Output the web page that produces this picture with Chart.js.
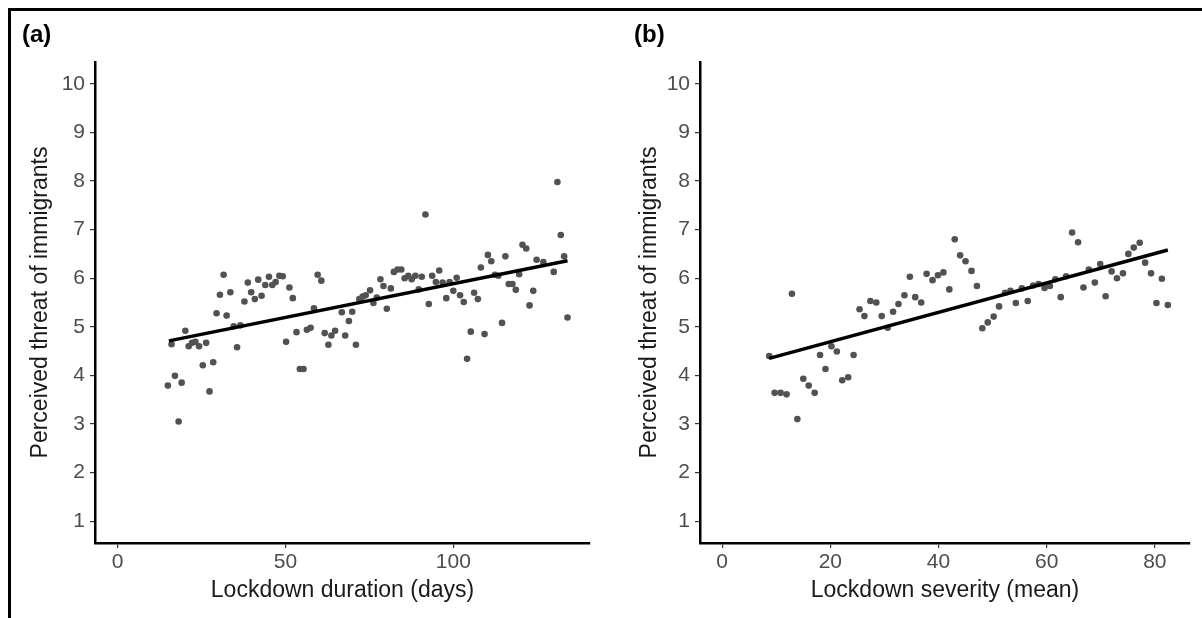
<!DOCTYPE html>
<html>
<head>
<meta charset="utf-8">
<script src="https://cdn.jsdelivr.net/npm/chart.js@4.4.1/dist/chart.umd.min.js"></script>
<style>
  html, body { margin: 0; padding: 0; background: #fff; }
  #wrap { position: relative; width: 1202px; height: 618px; overflow: hidden; }
  #frame {
    position: absolute; left: 8px; top: 8px; width: 1194px; height: 610px;
    border-top: 3px solid #000; border-left: 3px solid #000; box-sizing: border-box;
  }
  .tag { position: absolute; top: 22px; font: bold 24px "Liberation Sans", Arial, sans-serif; line-height: 24px; color: #000; }
  canvas { position: absolute; top: 0; }
</style>
</head>
<body>
<div id="wrap">
  <div id="frame"></div>
  <canvas id="chartA" width="600" height="618" style="left:0px"></canvas>
  <canvas id="chartB" width="602" height="618" style="left:600px"></canvas>
  <div class="tag" style="left:22px">(a)</div>
  <div class="tag" style="left:634px">(b)</div>
</div>
<script>
// panel (a): lockdown duration vs perceived threat
const durationA = [15.0, 16.1, 17.1, 18.2, 19.1, 20.2, 21.2, 22.2, 23.2, 24.3,
  25.4, 26.4, 27.4, 28.5, 29.5, 30.5, 31.6, 32.5, 33.6, 34.6,
  35.6, 36.6, 37.8, 38.8, 39.8, 40.9, 41.9, 42.9, 44.0, 45.1,
  46.1, 47.1, 48.2, 49.2, 50.2, 51.2, 52.2, 53.3, 54.3, 55.4,
  56.4, 57.5, 58.5, 59.6, 60.7, 61.7, 62.8, 63.7, 64.8,
  66.8, 67.8, 68.9, 69.9,
  71.0, 72.0, 73.0, 73.9, 75.2, 76.2, 77.2, 78.3, 79.2, 80.2,
  81.4, 82.3, 83.4, 84.5, 85.5, 86.6, 87.6, 88.7, 89.7, 90.6,
  91.7, 92.7, 93.7, 94.8, 95.8, 96.8, 97.9, 98.9, 100.0, 101.0,
  102.0, 103.1, 104.1, 105.2, 106.2, 107.3, 108.2, 109.3, 110.3, 111.3,
  112.4, 113.4, 114.5, 115.5, 116.5, 117.6, 118.6, 119.6, 120.6, 121.7,
  122.7, 123.8, 124.8, 126.8, 129.9, 131.0, 132.0, 133.0, 134.0];
const threatA = [3.79, 4.64, 3.99, 3.05, 3.85, 4.92, 4.60, 4.67, 4.69, 4.60,
  4.21, 4.67, 3.67, 4.27, 5.28, 5.66, 6.07, 5.23, 5.71, 5.01,
  4.58, 5.03, 5.52, 5.91, 5.71, 5.57, 5.97, 5.64, 5.86, 6.03,
  5.86, 5.92, 6.05, 6.04, 4.69, 5.81, 5.59, 4.89, 4.13, 4.13,
  4.94, 4.98, 5.38, 6.07, 5.95, 4.87, 4.63, 4.82, 4.92,
  5.30, 4.82, 5.12, 5.31,
  4.63, 5.57, 5.62, 5.65, 5.75, 5.49, 5.60, 5.98, 5.84, 5.37,
  5.79, 6.13, 6.18, 6.18, 6.00, 6.05, 5.98, 6.05, 5.77, 6.03,
  7.31, 5.47, 6.05, 5.92, 6.16, 5.91, 5.59, 5.92, 5.74, 6.01,
  5.65, 5.51, 4.34, 4.90, 5.70, 5.57, 6.22, 4.85, 6.48, 6.35,
  6.07, 6.05, 5.08, 6.45, 5.88, 5.88, 5.76, 6.08, 6.69, 6.61,
  5.44, 5.74, 6.38, 6.33, 6.13, 7.98, 6.89, 6.45, 5.19];
const fitXA = [15.3, 134.0];
const fitYA = [4.71, 6.36];
const xTicksA = [0, 50, 100];

// panel (b): lockdown severity vs perceived threat
const severityB = [8.7, 9.7, 10.8, 11.9, 12.9, 13.9, 15.0, 16.0, 17.1, 18.1,
  19.1, 20.2, 21.2, 22.2, 23.3, 24.3, 25.4, 26.3, 27.4, 28.5,
  29.5, 30.6, 31.6, 32.6, 33.7, 34.7, 35.7, 36.8, 37.8, 38.9,
  39.9, 40.9, 42.0, 43.0, 44.0, 45.0, 46.1, 47.1, 48.1, 49.1,
  50.2, 51.2, 52.3, 53.3, 54.3, 55.4, 56.5, 57.5, 58.5, 59.6,
  60.6, 61.6, 62.6, 63.6, 64.7, 65.8, 66.8, 67.8, 68.9, 69.9,
  70.9, 72.0, 73.0, 74.1, 75.1, 76.1, 77.2, 78.2, 79.3, 80.3,
  81.3, 82.4];
const threatB = [4.40, 3.64, 3.64, 3.61, 5.68, 3.10, 3.93, 3.79, 3.64, 4.42,
  4.13, 4.60, 4.49, 3.90, 3.96, 4.42, 5.36, 5.22, 5.53, 5.50,
  5.22, 4.98, 5.31, 5.47, 5.65, 6.03, 5.61, 5.50, 6.09, 5.96,
  6.06, 6.12, 5.77, 6.80, 6.47, 6.35, 6.15, 5.84, 4.97, 5.09,
  5.21, 5.42, 5.70, 5.74, 5.49, 5.79, 5.53, 5.85, 5.88, 5.80,
  5.84, 5.98, 5.61, 6.04, 6.94, 6.74, 5.81, 6.18, 5.91, 6.29,
  5.63, 6.14, 6.00, 6.10, 6.50, 6.63, 6.73, 6.32, 6.10, 5.49,
  5.99, 5.45];
const fitXB = [8.7, 82.4];
const fitYB = [4.35, 6.58];
const xTicksB = [0, 20, 40, 60, 80];

const yTicks = [1, 2, 3, 4, 5, 6, 7, 8, 9, 10];
const yTitle = "Perceived threat of immigrants";

const FONT = '"Liberation Sans", Arial, sans-serif';

function makePanel(id, xs, ys, fitX, fitY, xTicks, xMin, xMax, xTitle, yWidth, yTitlePad, padRight) {
  new Chart(document.getElementById(id), {
    type: "scatter",
    data: {
      datasets: [
        {
          data: xs.map((x, i) => ({ x: x, y: ys[i] })),
          pointRadius: 3.3,
          pointBackgroundColor: "#525252",
          pointBorderWidth: 0,
          order: 1,
        },
        {
          type: "line",
          data: fitX.map((x, i) => ({ x: x, y: fitY[i] })),
          borderColor: "#000",
          borderWidth: 3.5,
          pointRadius: 0,
          order: 0,
        },
      ],
    },
    options: {
      responsive: false,
      animation: false,
      devicePixelRatio: 1,
      events: [],
      layout: { padding: { left: 0, top: 62, right: padRight, bottom: 0 } },
      plugins: { legend: { display: false }, tooltip: { enabled: false } },
      scales: {
        x: {
          type: "linear",
          min: xMin,
          max: xMax,
          afterBuildTicks: (s) => { s.ticks = xTicks.map((v) => ({ value: v })); },
          afterFit: (s) => { s.height = 75; },
          grid: { drawOnChartArea: false, drawTicks: true, tickLength: 5, color: "#333", lineWidth: 1.2 },
          border: { display: true, color: "#000", width: 2.5 },
          ticks: { color: "#4d4d4d", font: { family: FONT, size: 21 }, padding: 2, maxRotation: 0 },
          title: { display: true, text: xTitle, color: "#1a1a1a", font: { family: FONT, size: 23 }, padding: { top: 0, bottom: 14 } },
        },
        y: {
          type: "linear",
          min: 0.55,
          max: 10.45,
          afterBuildTicks: (s) => { s.ticks = yTicks.map((v) => ({ value: v })); },
          afterFit: (s) => { s.width = yWidth; },
          grid: { drawOnChartArea: false, drawTicks: true, tickLength: 5, color: "#333", lineWidth: 1.2 },
          border: { display: true, color: "#000", width: 2.5 },
          ticks: { color: "#4d4d4d", font: { family: FONT, size: 21 }, padding: 5 },
          title: { display: true, text: yTitle, color: "#1a1a1a", font: { family: FONT, size: 23 }, padding: { top: yTitlePad, bottom: 0 } },
        },
      },
    },
  });
}

makePanel("chartA", durationA, threatA, fitXA, fitYA, xTicksA, -6.7, 140.7, "Lockdown duration (days)", 95, 27, 10);
makePanel("chartB", severityB, threatB, fitXB, fitYB, xTicksB, -4.1, 86.5, "Lockdown severity (mean)", 100, 36, 12);
</script>
</body>
</html>
